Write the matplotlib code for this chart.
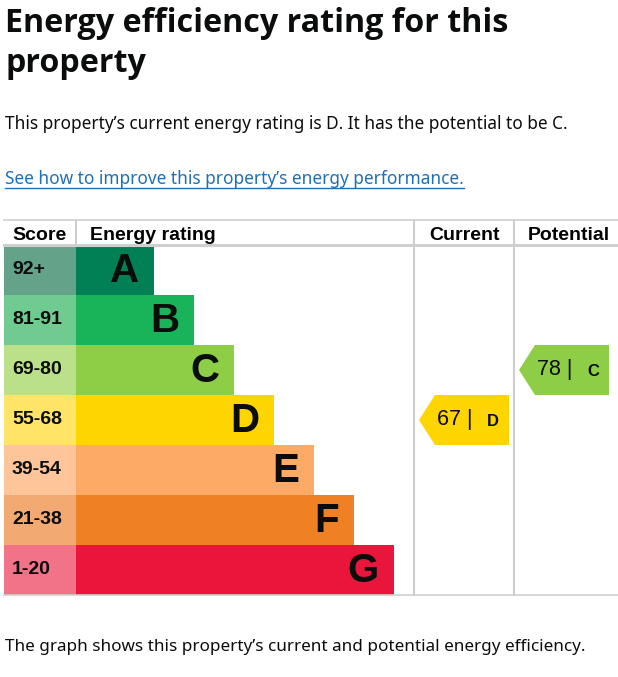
import matplotlib
matplotlib.use("Agg")
import matplotlib.pyplot as plt
from matplotlib.patches import Polygon

# data
bands = ["A", "B", "C", "D", "E", "F", "G"]
score_ranges = ["92+", "81-91", "69-80", "55-68", "39-54", "21-38", "1-20"]
band_min = [92, 81, 69, 55, 39, 21, 1]
bar_colors = ["#008054", "#19b459", "#8dce46", "#ffd500", "#fcaa65", "#ef8023", "#e9153b"]
score_colors = ["#64a38a", "#6fcb8f", "#bae08a", "#ffe468", "#fec59b", "#f3aa72", "#f27388"]
current_score = 67
potential_score = 78

title_lines = ["Energy efficiency rating for this", "property"]
summary = "This property\u2019s current energy rating is D. It has the potential to be C."
link_text = "See how to improve this property\u2019s energy performance."
footer = "The graph shows this property\u2019s current and potential energy efficiency."

W, H = 618, 677
fig = plt.figure(figsize=(W / 100, H / 100), dpi=100)
ax = fig.add_axes([0, 0, 1, 1])
ax.set_xlim(0, W)
ax.set_ylim(H, 0)
ax.axis("off")

title_font = "Open Sans"
body_font = "Noto Sans"
table_font = "Liberation Sans"

# texts above the chart
ax.text(5, 32, title_lines[0], fontsize=23.2, fontweight="bold",
        family=title_font, color="#0b0c0c", va="baseline")
ax.text(5, 72, title_lines[1], fontsize=23.2, fontweight="bold",
        family=title_font, color="#0b0c0c", va="baseline")
ax.text(5, 129, summary, fontsize=12.4, family=body_font, color="#0b0c0c", va="baseline")
link = ax.text(5, 184, link_text, fontsize=12.4, family=body_font, color="#1d70b8", va="baseline")
ax.text(5, 651, footer, fontsize=12.3, family=body_font, color="#0b0c0c", va="baseline")

# table layout
top, head_bot, row_h = 220, 245, 50
left, score_w, bar_x0 = 4, 72, 76
cur_x, pot_x = 414, 514
rows_y = [head_bot + row_h * i + row_h / 2 for i in range(len(bands))]
bottom = head_bot + row_h * len(bands)

grid = "#cfcfcf"
ax.plot([left, W], [top, top], color=grid, lw=1.2)
ax.plot([left, W], [head_bot, head_bot], color=grid, lw=2.2)
ax.plot([left, W], [bottom, bottom], color=grid, lw=1.2)
ax.plot([bar_x0, bar_x0], [top, head_bot], color=grid, lw=1.5)
ax.plot([cur_x, cur_x], [top, bottom], color=grid, lw=1.5)
ax.plot([pot_x, pot_x], [top, bottom], color=grid, lw=1.5)

hy = 239.5
hs = 14
ax.text(12, hy, "Score", fontsize=hs, fontweight="bold", family=table_font, va="baseline")
ax.text(90, hy, "Energy rating", fontsize=hs, fontweight="bold", family=table_font, va="baseline")
ax.text(464.5, hy, "Current", fontsize=hs, fontweight="bold", family=table_font, va="baseline", ha="center")
ax.text(569, hy, "Potential", fontsize=hs, fontweight="bold", family=table_font, va="baseline", ha="center")

bar_w = [78 + 40 * i for i in range(len(bands))]
ax.barh(rows_y, [score_w] * len(bands), left=left, height=row_h, color=score_colors, linewidth=0)
ax.barh(rows_y, bar_w, left=bar_x0, height=row_h, color=bar_colors, linewidth=0)

for y, rng, band, w in zip(rows_y, score_ranges, bands, bar_w):
    ax.text(12, y, rng, fontsize=14, fontweight="bold", family=table_font, va="center", color="#0b0c0c")
    ax.text(bar_x0 + w - 15, y + 1, band, fontsize=29, fontweight="bold", family=table_font,
            va="center", ha="right", color="#0b0c0c")


def band_of(score):
    for i, m in enumerate(band_min):
        if score >= m:
            return i
    return len(bands) - 1


def arrow(col_x, score):
    i = band_of(score)
    yc = rows_y[i]
    x0, x1, tip = col_x + 5, col_x + 95, 16
    pts = [(x0, yc), (x0 + tip, yc - row_h / 2), (x1, yc - row_h / 2),
           (x1, yc + row_h / 2), (x0 + tip, yc + row_h / 2)]
    ax.add_patch(Polygon(pts, closed=True, color=bar_colors[i], lw=0))
    ax.text(x0 + 18, yc, f"{score} |", fontsize=15.5, family=table_font, va="center", color="#0b0c0c")
    ax.text(x0 + 68, yc + 1, bands[i], fontsize=12, fontweight="bold", family=table_font,
            va="center", color="#0b0c0c")


arrow(cur_x, current_score)
arrow(pot_x, potential_score)

# underline the link
fig.canvas.draw()
bb = link.get_window_extent().transformed(ax.transData.inverted())
ax.plot([bb.x0, bb.x1], [188, 188], color="#1d70b8", lw=1)

fig.savefig("out.png", dpi=100)
